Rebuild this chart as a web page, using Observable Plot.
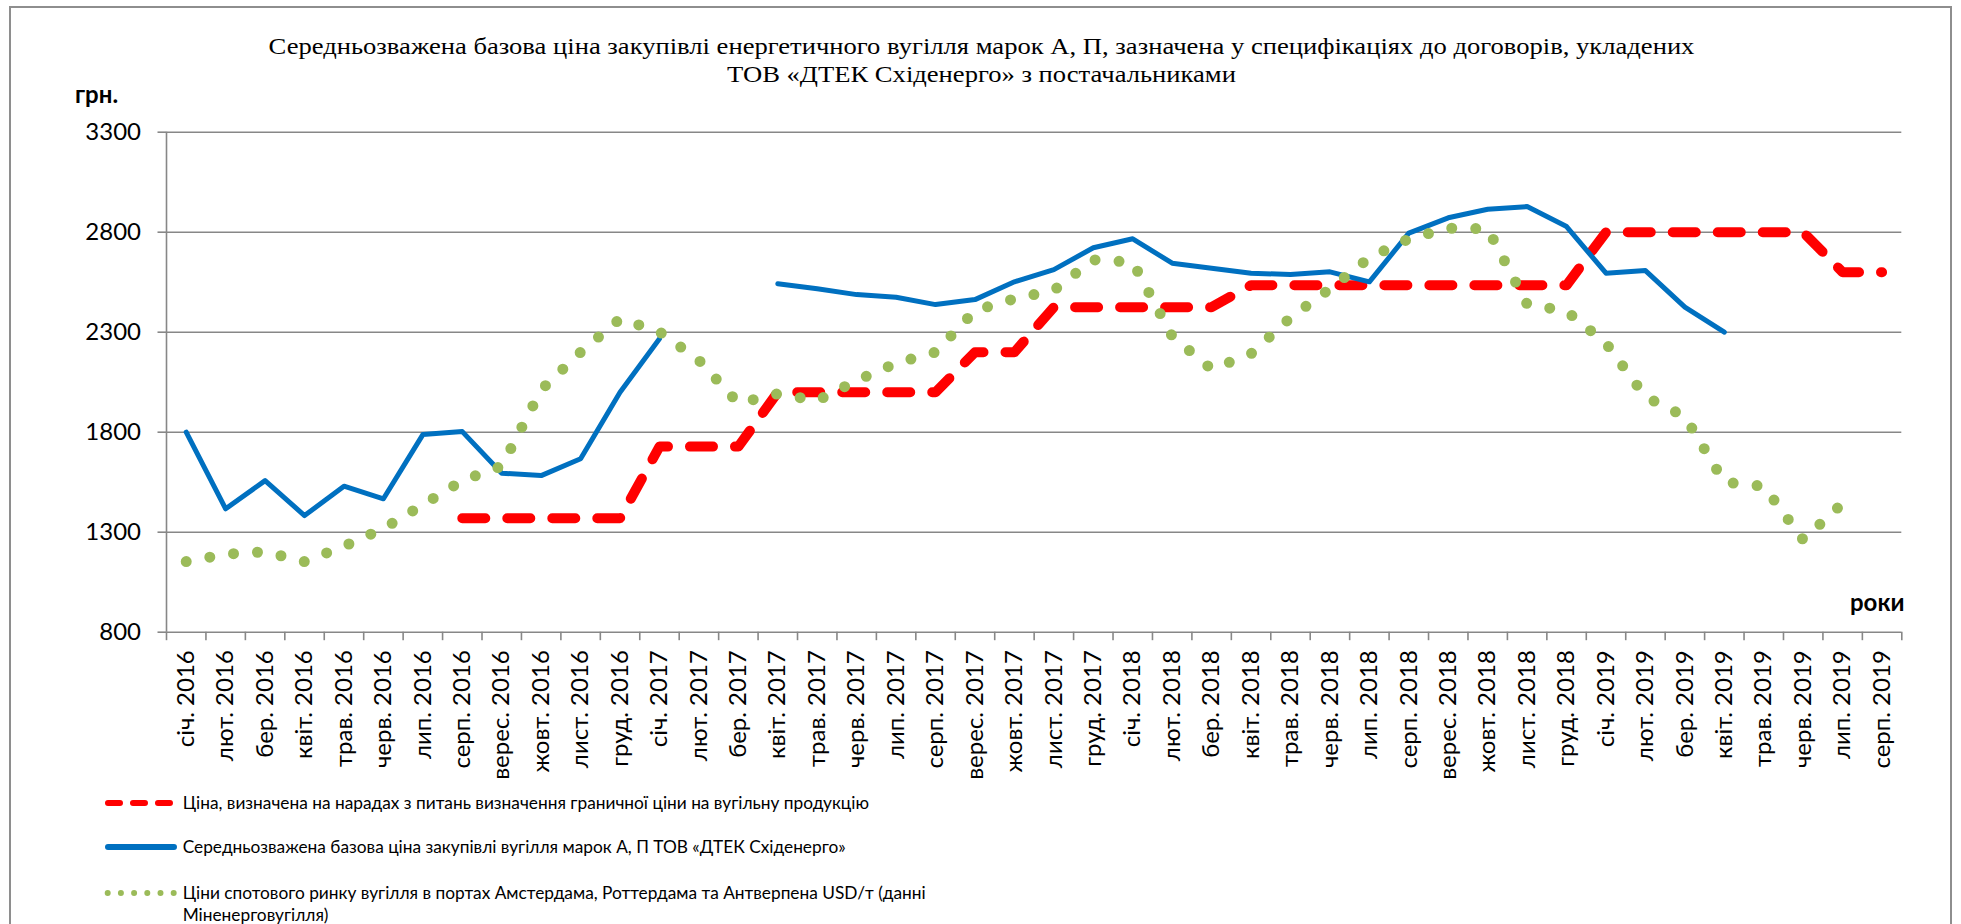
<!DOCTYPE html>
<html>
<head>
<meta charset="utf-8">
<script src="https://cdn.jsdelivr.net/npm/d3@7"></script>
<script src="https://cdn.jsdelivr.net/npm/@observablehq/plot@0.6"></script>
<style>
  html, body { margin: 0; padding: 0; background: #fff; }
  #page { position: relative; width: 1961px; height: 924px; overflow: hidden; background: #fff; }
  #frame { position: absolute; left: 9px; top: 6px; width: 1943px; height: 1000px; border: 2px solid #8e8e8e; box-sizing: border-box; }
  #title { position: absolute; left: 0; top: 0; width: 1963px; box-sizing: border-box; padding-top: 28.6px;
           font-family: "Liberation Serif", "Times New Roman", serif; font-size: 26.6px; line-height: 32px; text-align: center; color: #000;
           transform: scaleY(0.87); transform-origin: 50% 52px; }
  #chart { position: absolute; left: 0; top: 100px; width: 1961px; height: 700px; }
  .unit { position: absolute; font-family: Lato, sans-serif; font-weight: bold; font-size: 24px; line-height: 24px; color: #000; white-space: nowrap; }
  .lg { position: absolute; left: 100px; display: flex; align-items: flex-start; font-family: Lato, sans-serif; font-size: 17.3px; line-height: 22px; color: #000; }
  .lg svg { flex: none; width: 82.7px; height: 22px; }
</style>
</head>
<body>
<div id="page">
  <div id="frame"></div>
  <div id="title">Середньозважена базова ціна закупівлі енергетичного вугілля марок А, П, зазначена у специфікаціях до договорів, укладених<br>ТОВ «ДТЕК Східенерго» з постачальниками</div>
  <div class="unit" id="unitY" style="left:75px; top:81.7px;">грн.</div>
  <div id="chart"></div>
  <div class="unit" id="unitX" style="left:1850px; top:590.4px;">роки</div>
  <div id="legend"></div>
</div>
<script>
// Month categories (x axis tick labels)
const months = [
  "січ. 2016","лют. 2016","бер. 2016","квіт. 2016","трав. 2016","черв. 2016","лип. 2016","серп. 2016","верес. 2016","жовт. 2016","лист. 2016","груд. 2016",
  "січ. 2017","лют. 2017","бер. 2017","квіт. 2017","трав. 2017","черв. 2017","лип. 2017","серп. 2017","верес. 2017","жовт. 2017","лист. 2017","груд. 2017",
  "січ. 2018","лют. 2018","бер. 2018","квіт. 2018","трав. 2018","черв. 2018","лип. 2018","серп. 2018","верес. 2018","жовт. 2018","лист. 2018","груд. 2018",
  "січ. 2019","лют. 2019","бер. 2019","квіт. 2019","трав. 2019","черв. 2019","лип. 2019","серп. 2019"
];

// Y axis ticks
const yTicks = [800, 1300, 1800, 2300, 2800, 3300];

// Series 1: price set at meetings (red dashed)
const priceMeeting = [
  null, null, null, null, null, null, null, 1370, 1370, 1370, 1370, 1370,
  1728, 1728, 1728, 2000, 2000, 2000, 2000, 2000, 2200, 2200, 2425, 2425,
  2425, 2425, 2425, 2535, 2535, 2535, 2535, 2535, 2535, 2535, 2535, 2535,
  2800, 2800, 2800, 2800, 2800, 2800, 2600, 2600
];

// Series 2: weighted average base price DTEK Skhidenergo (blue)
const priceDtek = [
  1800, 1417, 1558, 1383, 1530, 1467, 1788, 1803, 1595, 1583, 1667, 2000,
  2267, null, null, 2542, 2517, 2488, 2475, 2438, 2463, 2552, 2613, 2722,
  2767, 2645, 2620, 2595, 2588, 2602, 2552, 2795, 2872, 2915, 2928, 2828,
  2595, 2608, 2425, 2300, null, null, null, null
];

// Series 3: ARA spot market prices (green dotted)
const priceSpot = [
  1153, 1190, 1202, 1153, 1230, 1318, 1437, 1558, 1630, 2012, 2200, 2367,
  2302, 2160, 1945, 1992, 1958, 2058, 2145, 2200, 2408, 2467, 2510, 2662,
  2650, 2280, 2115, 2192, 2373, 2517, 2672, 2767, 2820, 2817, 2440, 2405,
  2245, 1977, 1878, 1550, 1530, 1262, 1445, null
];

const legendItems = [
  "Ціна, визначена на нарадах з питань визначення граничної ціни на вугільну продукцію",
  "Середньозважена базова ціна закупівлі вугілля марок А, П ТОВ «ДТЕК Східенерго»",
  "Ціни спотового ринку вугілля в портах Амстердама, Роттердама та Антверпена USD/т (данні<br>Міненерговугілля)"
];

const RED = "#FF0000", BLUE = "#0070C0", GREEN = "#9BBB59", GRID = "#878787";

const rows = arr => arr.map((v, i) => ({ i: i + 0.5, v: v == null ? NaN : v }));

const chart = Plot.plot({
  width: 1961,
  height: 700,
  marginLeft: 166,
  marginRight: 59.7,
  marginTop: 31.7,
  marginBottom: 168.3,
  x: { domain: [0, months.length], axis: null, label: null },
  y: { domain: [800, 3300], axis: null, label: null },
  style: { background: "transparent", color: "#000", fontFamily: "Lato, sans-serif", overflow: "visible" },
  marks: [
    Plot.ruleY(yTicks, { stroke: GRID, strokeWidth: 1.6 }),
    Plot.ruleX([0], { y1: 800, y2: 3300, stroke: GRID, strokeWidth: 1.6 }),
    Plot.axisY({ ticks: yTicks, label: null, tickSize: 8.5, tickPadding: 17, fontSize: 24, stroke: GRID, strokeWidth: 1.6, tickFormat: d => String(d) }),
    Plot.axisX({ ticks: d3.range(months.length + 1), label: null, tickSize: 8.5, tickFormat: () => "", stroke: GRID, strokeWidth: 1.6 }),
    Plot.axisX({ ticks: d3.range(months.length).map(i => i + 0.5), label: null, tickSize: 0, tickPadding: 18, tickRotate: -90, fontSize: 24,
                 tickFormat: d => months[Math.floor(d)] }),
    Plot.line(rows(priceMeeting), { x: "i", y: "v", stroke: RED, strokeWidth: 10, strokeDasharray: "23 22", strokeLinecap: "round", strokeLinejoin: "round" }),
    Plot.line(rows(priceDtek), { x: "i", y: "v", stroke: BLUE, strokeWidth: 5, strokeLinecap: "round", strokeLinejoin: "round" }),
    Plot.line(rows(priceSpot), { x: "i", y: "v", stroke: GREEN, strokeWidth: 11, strokeDasharray: "0 24", strokeLinecap: "round", strokeLinejoin: "round" })
  ]
});
document.getElementById("chart").appendChild(chart);

// Legend (HTML with small swatches)
const swatches = [
  `<svg viewBox="0 0 82.7 22"><line x1="8" y1="11" x2="73" y2="11" stroke="${RED}" stroke-width="6" stroke-linecap="round" stroke-dasharray="12 13"/></svg>`,
  `<svg viewBox="0 0 82.7 22"><line x1="8" y1="11" x2="74" y2="11" stroke="${BLUE}" stroke-width="6" stroke-linecap="round"/></svg>`,
  `<svg viewBox="0 0 82.7 22"><line x1="7.7" y1="11" x2="74.5" y2="11" stroke="${GREEN}" stroke-width="6" stroke-linecap="round" stroke-dasharray="0 13.2"/></svg>`
];
const legendTops = [791.5, 836.2, 881.8];
const legend = document.getElementById("legend");
legendItems.forEach((t, k) => {
  const d = document.createElement("div");
  d.className = "lg";
  d.style.top = legendTops[k] + "px";
  d.innerHTML = swatches[k] + `<span>${t}</span>`;
  legend.appendChild(d);
});
</script>
</body>
</html>
